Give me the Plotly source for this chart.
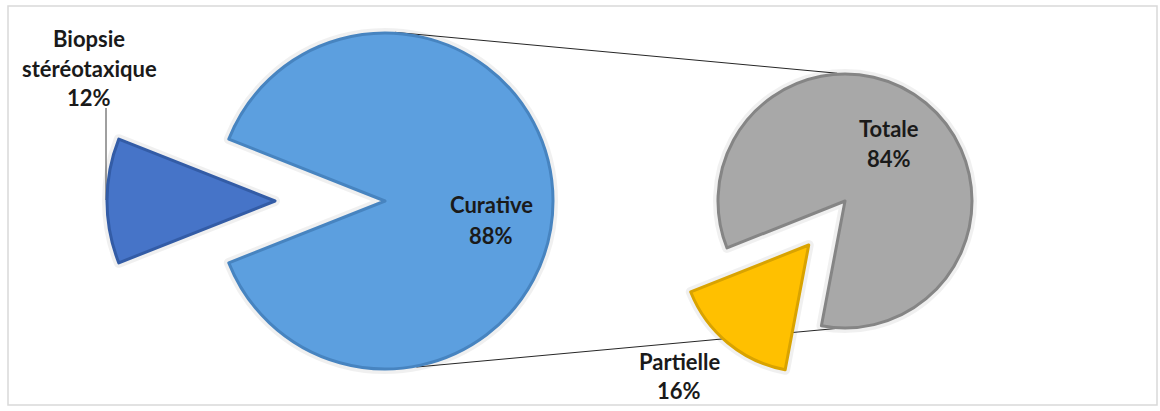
import numpy as np
import plotly.graph_objects as go

# ---- data -------------------------------------------------------------
main_labels = ["Biopsie stéréotaxique", "Curative"]
main_values = [12, 88]
sub_labels = ["Partielle", "Totale"]
sub_values = [16, 84]

# ---- canvas / styling -------------------------------------------------
W, H = 1160, 411
FONT = "Lato"
TXT = "#1a1a1a"

main_colors = ["#4674c8", "#5c9fdf"]
main_edges = ["#335ca6", "#4784c0"]
sub_colors = ["#ffc000", "#a8a8a8"]
sub_edges = ["#d9a300", "#858585"]

# pie geometry (pixels)
MAIN_C, MAIN_R = (385, 201), 168
SUB_C, SUB_R = (845, 201), 127
MAIN_EXPLODE = 110      # distance the small slice is pulled out
SUB_EXPLODE = 57
MAIN_MID = 270.0        # bisector of exploded slice, degrees clockwise from 12 o'clock
SUB_MID = 219.5


def px_x(x):
    return x / W


def px_y(y):
    return 1 - y / H


def domain(center, r):
    cx, cy = center
    return dict(x=[px_x(cx - r), px_x(cx + r)], y=[px_y(cy + r), px_y(cy - r)])


def offset(center, dist, ang):
    a = np.radians(ang)
    return (center[0] + dist * np.sin(a), center[1] - dist * np.cos(a))


def on_circle(center, r, ang):
    return offset(center, r, ang)


def rotation_for(values, mid):
    share = values[0] / sum(values) * 360
    rot = mid - share / 2
    rot = (rot + 180) % 360 - 180
    return rot


fig = go.Figure()


def add_pie(labels, values, colors, edges, center, r, rot, visible_idx):
    fill = [c if i in visible_idx else "rgba(0,0,0,0)" for i, c in enumerate(colors)]
    line = [c if i in visible_idx else "rgba(0,0,0,0)" for i, c in enumerate(edges)]
    shadow = ["rgba(0,0,0,0.06)" if i in visible_idx else "rgba(0,0,0,0)" for i in range(len(values))]
    # soft halo beneath the slice
    fig.add_trace(go.Pie(
        labels=labels, values=values, sort=False, direction="clockwise",
        rotation=rot, domain=domain(center, r), textinfo="none",
        hoverinfo="skip", showlegend=False,
        marker=dict(colors=["rgba(0,0,0,0)"] * len(values),
                    line=dict(color=shadow, width=10)),
    ))
    fig.add_trace(go.Pie(
        labels=labels, values=values, sort=False, direction="clockwise",
        rotation=rot, domain=domain(center, r), textinfo="none",
        hoverinfo="label+percent", showlegend=False,
        marker=dict(colors=fill, line=dict(color=line, width=3)),
    ))


main_rot = rotation_for(main_values, MAIN_MID)
sub_rot = rotation_for(sub_values, SUB_MID)

# main pie: large slice in place, small slice exploded
add_pie(main_labels, main_values, main_colors, main_edges, MAIN_C, MAIN_R, main_rot, [1])
add_pie(main_labels, main_values, main_colors, main_edges,
        offset(MAIN_C, MAIN_EXPLODE, MAIN_MID), MAIN_R, main_rot, [0])

# secondary pie
add_pie(sub_labels, sub_values, sub_colors, sub_edges, SUB_C, SUB_R, sub_rot, [1])
add_pie(sub_labels, sub_values, sub_colors, sub_edges,
        offset(SUB_C, SUB_EXPLODE, SUB_MID), SUB_R, sub_rot, [0])

shapes = []
# chart frame
shapes.append(dict(type="rect", xref="paper", yref="paper",
                   x0=px_x(8), x1=px_x(1157), y0=px_y(405), y1=px_y(6),
                   line=dict(color="#d9d9d9", width=1.5), layer="below"))

# connector lines between the two pies
for a_main, a_sub in [(3.4, -3.5), (169.3, 184.5)]:
    p0 = on_circle(MAIN_C, MAIN_R + 1, a_main)
    p1 = on_circle(SUB_C, SUB_R + 1, a_sub)
    shapes.append(dict(type="line", xref="paper", yref="paper",
                       x0=px_x(p0[0]), y0=px_y(p0[1]), x1=px_x(p1[0]), y1=px_y(p1[1]),
                       line=dict(color="#262626", width=1), layer="below"))

# leader line for the exploded slice label
shapes.append(dict(type="line", xref="paper", yref="paper",
                   x0=px_x(106), x1=px_x(106), y0=px_y(108), y1=px_y(200),
                   line=dict(color="#404040", width=1), layer="below"))

annotations = []


def label(lines, cx, y0, step=30):
    for k, t in enumerate(lines):
        annotations.append(dict(
            xref="paper", yref="paper", x=px_x(cx), y=px_y(y0 + k * step),
            text=f"<b>{t}</b>", showarrow=False, xanchor="center", yanchor="middle",
            font=dict(family=FONT, size=22, color=TXT),
        ))


def pct(v, vals):
    return f"{round(100 * v / sum(vals))}%"


bio, cur = main_labels
label(["Biopsie", "stéréotaxique", pct(main_values[0], main_values)], 89, 38, 30)
label([cur, pct(main_values[1], main_values)], 491, 204, 31)
label([sub_labels[1], pct(sub_values[1], sub_values)], 889, 129, 29)
label([sub_labels[0], pct(sub_values[0], sub_values)], 679, 361, 29)

fig.update_layout(
    width=W, height=H,
    margin=dict(l=0, r=0, t=0, b=0),
    paper_bgcolor="white", plot_bgcolor="white",
    shapes=shapes, annotations=annotations,
    showlegend=False,
)

fig.write_html("out.html")
